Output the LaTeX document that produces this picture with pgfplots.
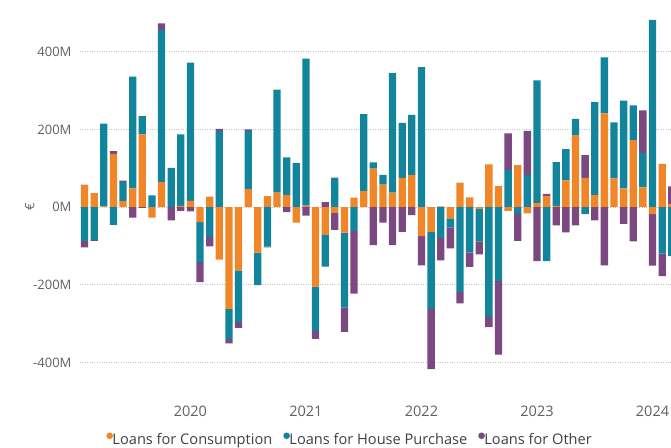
\documentclass[border=0pt]{standalone}
\usepackage{pgfplots}
\pgfplotsset{compat=1.18}
\usepackage{pgfplotstable}
\usepackage{fontspec}
\setmainfont{Open Sans}
\definecolor{cons}{RGB}{240,134,40}
\definecolor{house}{RGB}{18,133,157}
\definecolor{other}{RGB}{123,72,130}
\definecolor{tickgray}{RGB}{96,96,96}
\definecolor{leggray}{RGB}{64,64,64}
\pgfplotstableread{
i c h o
1 58 -87 -17
2 36 -85 -2
3 2 213 0
4 137 -46 7
5 15 49 4
6 48 288 -27
7 187 47 -2
8 -27 30 0
9 64 392 17
10 0 101 -34
11 3 184 -10
12 16 356 -11
13 -39 -103 -51
14 27 -77 -24
15 -135 196 5
16 -262 -78 -11
17 -163 -133 -15
18 46 150 4
19 -117 -84 0
20 28 -102 -2
21 37 265 0
22 31 97 -13
23 -40 113 0
24 4 378 -22
25 -205 -114 -20
26 -70 -83 13
27 -15 76 -44
28 -66 -193 -62
29 24 -61 -162
30 41 198 0
31 99 16 -98
32 58 25 -40
33 37 308 -98
34 75 142 -64
35 82 155 -21
36 -75 360 -75
37 -64 -198 -155
38 2 -79 -58
39 -29 -23 -54
40 63 -218 -30
41 25 -117 -37
42 -5 -83 -34
43 110 -283 -26
44 54 -190 -190
45 -10 96 94
46 108 -18 -69
47 -16 83 113
48 10 316 -139
49 29 -139 5
50 3 113 -47
51 69 80 -65
52 185 42 -47
53 75 -18 59
54 31 239 -34
55 241 144 -150
56 74 144 0
57 48 226 -43
58 172 90 -88
59 51 88 110
60 -18 482 -133
61 111 -120 -58
62 8 -126 45
}\loans
\pgfplotsset{
  base/.style={
    at={(80pt,62pt)}, anchor=south west, scale only axis,
    width=591pt, height=385pt,
    xmin=0.53, xmax=61.92, ymin=-458, ymax=533,
    ybar stacked, bar width=7.3pt,
    axis line style={draw=none}, major tick length=0pt,
  }
}
\begin{document}
\fontsize{13}{15}\selectfont
\begin{tikzpicture}
\path[use as bounding box] (0,0) rectangle (671pt,447pt);
\begin{axis}[base,
  ytick={-400,-200,0,200,400},
  yticklabels={-400M,-200M,0M,200M,400M},
  xtick={12,24,36,48,60},
  xticklabels={2020,2021,2022,2023,2024},
  ymajorgrids, grid style={dotted, gray!45, line width=0.6pt},
  yticklabel style={text=tickgray, anchor=east, xshift=-4pt, font=\fontsize{13}{15}\selectfont},
  xticklabel style={text=tickgray, anchor=north, yshift=-16pt, font=\fontsize{14.5}{16}\selectfont},
  ylabel={€},
  ylabel style={at={(axis description cs:-0.085,0.462)}, anchor=center, text=tickgray, font=\fontsize{13}{15}\selectfont},
  legend columns=3,
  legend image code/.code={\fill[#1] (0pt,0.33em) circle (3.3pt);},
  legend style={at={(axis description cs:0.457,-0.143)}, anchor=center, draw=none, fill=none,
    font=\fontsize{14.6}{16}\selectfont, text=leggray, inner sep=0pt,
    /tikz/every even column/.append style={column sep=9pt},
    /tikz/every odd column/.append style={column sep=-2.5pt}},
]
\addplot[fill=cons, draw=none] table[x=i, y expr={max(\thisrow{c},0)}] {\loans};
\addplot[fill=house, draw=none] table[x=i, y expr={max(\thisrow{h},0)}] {\loans};
\addplot[fill=other, draw=none] table[x=i, y expr={max(\thisrow{o},0)}] {\loans};
\legend{Loans for Consumption, Loans for House Purchase, Loans for Other}
\end{axis}
\begin{axis}[base, hide axis]
\addplot[fill=cons, draw=none] table[x=i, y expr={min(\thisrow{c},0)}] {\loans};
\addplot[fill=house, draw=none] table[x=i, y expr={min(\thisrow{h},0)}] {\loans};
\addplot[fill=other, draw=none] table[x=i, y expr={min(\thisrow{o},0)}] {\loans};
\end{axis}
\end{tikzpicture}
\end{document}
